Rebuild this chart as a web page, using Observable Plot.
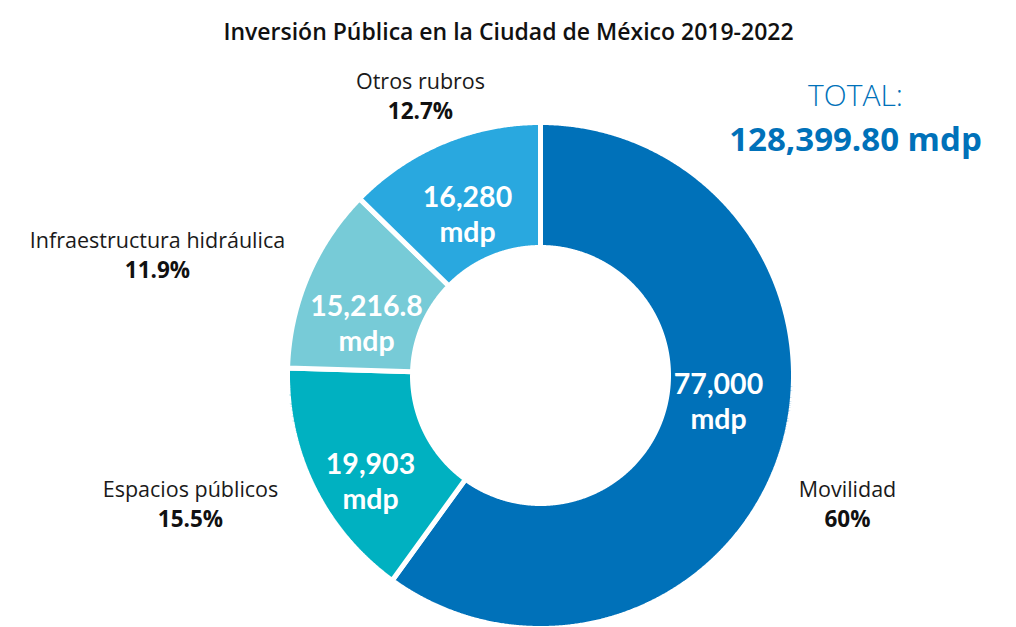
<!DOCTYPE html>
<html>
<head>
<meta charset="utf-8">
<script src="https://cdn.jsdelivr.net/npm/d3@7"></script>
<script src="https://cdn.jsdelivr.net/npm/@observablehq/plot@0.6"></script>
<style>
  html, body { margin: 0; padding: 0; background: #fff; }
  svg { display: block; font-family: "Open Sans", Lato, sans-serif; }
</style>
</head>
<body>
<div id="chart"></div>
<script>
// ---- data ----
const titleText = "Inversión Pública en la Ciudad de México 2019-2022";
const categories = ["Movilidad", "Espacios públicos", "Infraestructura hidráulica", "Otros rubros"];
const values = [77000, 19903, 15216.8, 16280];
const valueLabels = ["77,000", "19,903", "15,216.8", "16,280"];
const percentLabels = ["60%", "15.5%", "11.9%", "12.7%"];
const totalTitle = "TOTAL:";
const totalLabel = "128,399.80 mdp";

// ---- styles / layout ----
const colors = ["#0071b9", "#00b1c1", "#77cbd7", "#29a8df"];
const W = 1016, H = 627;
const CX = 540, CY = 375, R = 253;       // pixel center & outer radius
const innerRatio = 128 / 253;
// label offsets in pixels relative to the donut center
const innerLabelPos = [[178, 25], [-170, 105], [-174, -53], [-73, -162]];
const outerNamePos = [[307, 114.5], [-350, 114.5], [-383, -134.5], [-120, -293.5]];
const pctGap = 30;
const totalPos = [315, -279];
const totalGap = 43.5;

// ---- geometry via d3.pie ----
const pie = d3.pie().sort(null).value(d => d)(values);
const pts = [];
pie.forEach((p, i) => {
  const n = Math.max(8, Math.ceil((p.endAngle - p.startAngle) / 0.005));
  for (let k = 0; k <= n; k++) {
    const a = p.startAngle + (p.endAngle - p.startAngle) * k / n;
    pts.push({cat: categories[i], x: Math.sin(a), y: Math.cos(a)});
  }
  for (let k = n; k >= 0; k--) {
    const a = p.startAngle + (p.endAngle - p.startAngle) * k / n;
    pts.push({cat: categories[i], x: innerRatio * Math.sin(a), y: innerRatio * Math.cos(a)});
  }
});

const toUnit = ([dx, dy]) => ({x: dx / R, y: -dy / R});
const innerLabels = categories.map((c, i) => ({...toUnit(innerLabelPos[i]), text: valueLabels[i] + "\nmdp"}));
const nameLabels = categories.map((c, i) => ({...toUnit(outerNamePos[i]), text: c}));
const pctLabels = categories.map((c, i) => ({...toUnit(outerNamePos[i]), text: percentLabels[i]}));
const tp = toUnit(totalPos);

const chart = Plot.plot({
  width: W, height: H,
  margin: 0,
  x: {domain: [-CX / R, (W - CX) / R], axis: null},
  y: {domain: [-(H - CY) / R, CY / R], axis: null},
  color: {domain: categories, range: colors},
  marks: [
    Plot.line(pts, {x: "x", y: "y", z: "cat", fill: "cat", stroke: "white", strokeWidth: 5, curve: "linear-closed", strokeLinejoin: "miter"}),
    Plot.text(innerLabels, {x: "x", y: "y", text: "text", fill: "white", fontFamily: "Lato, sans-serif", fontSize: 28.5, fontWeight: 700, lineHeight: 1.22, textAnchor: "middle"}),
    Plot.text(nameLabels, {x: "x", y: "y", text: "text", fill: "#1a1a1a", fontSize: 21.5, fontWeight: 400}),
    Plot.text(pctLabels, {x: "x", y: "y", text: "text", fill: "#111", fontSize: 22.5, fontWeight: 700, dy: pctGap}),
    Plot.text([totalTitle], {x: tp.x, y: tp.y, fill: "#0071b9", fontSize: 30, fontWeight: 300}),
    Plot.text([totalLabel], {x: tp.x, y: tp.y, fill: "#0071b9", fontSize: 33, fontWeight: 700, dy: totalGap}),
    Plot.text([titleText], {frameAnchor: "top", dy: 23, fill: "#111", fontSize: 23, fontWeight: 600})
  ]
});
document.getElementById("chart").appendChild(chart);
</script>
</body>
</html>
